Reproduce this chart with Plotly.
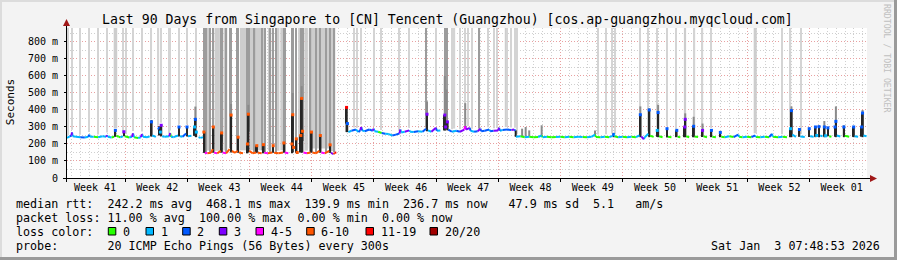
import numpy as np
import plotly.graph_objects as go

# ------------------------------------------------------------------ data
title = "Last 90 Days from Singapore to [CN] Tencent (Guangzhou) [cos.ap-guangzhou.myqcloud.com]"
week_labels = ["Week 41", "Week 42", "Week 43", "Week 44", "Week 45", "Week 46", "Week 47",
               "Week 48", "Week 49", "Week 50", "Week 51", "Week 52", "Week 01"]
week_label_day = [3.15, 10.15, 17.15, 24.15, 31.15, 38.15, 45.15, 52.15, 59.15, 66.15, 73.15, 80.15, 87.15]
week_start_day = [6.53, 13.53, 20.53, 27.53, 34.53, 41.53, 48.53, 55.53, 62.53, 69.53, 76.53, 83.53]
y_tick_vals = [0, 100, 200, 300, 400, 500, 600, 700, 800]
y_tick_text = ["0", "100 m", "200 m", "300 m", "400 m", "500 m", "600 m", "700 m", "800 m"]
y_max = 882

# median rtt (ms) at day offsets, with number of lost pings (of 20)
med_day = [
    # weeks 41-42
    0.0, 0.3, 0.5, 0.56, 0.65, 1.0, 1.5, 2.0, 2.4, 2.5, 2.6, 3.0, 3.5, 4.0, 4.4, 4.5, 4.6, 5.0, 5.3, 5.44,
    5.55, 5.8, 6.0, 6.3, 6.4, 6.5, 7.0, 7.3, 7.43, 7.55, 8.0, 8.3, 8.44, 8.55, 9.0, 9.3, 9.5, 9.6, 10.0, 10.25,
    10.35, 10.5, 10.6, 10.7, 11.0, 11.5, 11.6, 11.7, 12.0, 12.5, 12.6, 12.7, 13.0, 13.4, 13.5, 13.6, 14.0, 14.35, 14.44, 14.55,
    14.8, 15.0, 15.3, 15.4, 15.5,
    # weeks 43-44
    15.8, 16.2, 16.4, 16.46, 16.55, 16.9, 17.3, 17.4, 17.5, 17.9, 18.3, 18.46, 18.55, 18.9, 19.2, 19.25, 19.35, 19.8, 20.3, 20.4,
    20.5, 20.9, 21.3, 21.35, 21.45, 21.9, 22.1, 22.2, 22.6, 23.1, 23.2, 23.3, 23.8, 24.3, 24.4, 24.5, 24.9, 25.3, 25.4, 25.5,
    25.8, 25.9, 26.3, 26.4, 26.5, 26.6, 27.0, 27.4, 27.5, 27.6, 28.0, 28.4, 28.5, 28.6, 29.0, 29.5, 29.6, 29.7, 30.0, 30.1,
    30.3,
    # no data
    30.9,
    # weeks 45-47
    31.45, 31.55, 31.65, 32.0, 32.5, 32.8, 33.0, 33.1, 33.2, 33.5, 34.0, 34.4, 34.5, 34.6, 35.0, 35.4, 35.8, 36.2, 36.6, 37.0,
    37.4, 37.5, 37.6, 38.0, 38.5, 38.6, 39.0, 39.5, 40.0, 40.4, 40.5, 40.6, 41.0, 41.5, 41.6, 42.0, 42.5, 42.6, 42.8, 42.9,
    43.3, 43.8, 44.2, 44.7, 44.8, 44.9, 45.3, 45.4, 45.8, 46.2, 46.5, 46.6, 47.0, 47.5, 47.6, 48.0, 48.5, 48.6, 48.7, 49.0,
    49.5, 50.0, 50.3, 50.45, 50.5,
    # weeks 48-01
    51.0, 51.5, 52.0, 52.5, 53.0, 53.4, 53.5, 54.0, 54.5, 55.0, 55.5, 56.0, 56.5, 57.0, 57.5, 58.0, 58.5, 59.0, 59.4, 59.5,
    60.0, 60.5, 61.0, 61.4, 61.5, 61.6, 62.0, 62.5, 63.0, 63.5, 64.0, 64.4, 64.5, 64.6, 64.9, 65.0, 65.4, 65.5, 65.6, 66.0,
    66.4, 66.5, 66.6, 67.0, 67.5, 67.6, 68.0, 68.6, 68.7, 69.0, 69.5, 69.55, 69.65, 70.0, 70.5, 70.6, 71.0, 71.5, 71.6, 72.0,
    72.5, 72.6, 73.0, 73.5, 73.6, 74.0, 74.5, 75.0, 75.5, 75.6, 76.0, 76.5, 77.0, 77.4, 77.5, 78.0, 78.5, 79.0, 79.3, 79.4,
    80.0, 80.5, 81.0, 81.4, 81.5, 81.6, 82.0, 82.4, 82.5, 83.0, 83.5, 83.6, 84.0, 84.2, 84.35, 84.6, 84.75, 85.0, 85.2, 85.35,
    85.6, 85.75, 86.0, 86.4, 86.5, 86.6, 87.0, 87.4, 87.5, 88.0, 88.5, 88.6, 89.0, 89.4, 89.5, 89.6, 89.95,
]
med_ms = [
    235, 245, 250, 268, 245, 242, 240, 238, 242, 255, 242, 243, 240, 245, 243, 252, 242, 238, 242, 280,
    250, 242, 240, 245, 272, 245, 238, 242, 262, 240, 235, 240, 258, 242, 240, 245, 330, 250, 242, 285,
    300, 270, 310, 245, 242, 245, 265, 242, 240, 250, 300, 245, 242, 262, 300, 245, 248, 300, 345, 270,
    240, 236, 240, 270, 148,
    145, 148, 170, 300, 150, 145, 160, 265, 150, 145, 170, 370, 160, 148, 160, 240, 150, 145, 200, 375,
    160, 145, 150, 190, 148, 145, 196, 148, 145, 150, 190, 148, 145, 150, 206, 150, 145, 200, 372, 180,
    230, 150, 250, 468, 275, 150, 145, 150, 270, 150, 145, 160, 250, 150, 145, 160, 195, 148, 140, 148,
    150,
    None,
    415, 320, 270, 278, 285, 270, 282, 300, 280, 275, 285, 278, 290, 275, 272, 265, 260, 258, 250, 255,
    262, 285, 268, 272, 280, 272, 270, 275, 272, 290, 375, 280, 272, 295, 278, 280, 370, 300, 330, 285,
    272, 278, 272, 285, 305, 285, 295, 278, 272, 275, 290, 275, 278, 285, 275, 278, 280, 295, 278, 282,
    285, 282, 285, 278, 242,
    245, 240, 243, 240, 241, 250, 240, 242, 239, 241, 243, 240, 242, 240, 243, 241, 239, 242, 255, 241,
    240, 242, 240, 248, 265, 245, 240, 243, 240, 242, 240, 250, 372, 245, 228, 240, 260, 400, 248, 242,
    280, 385, 245, 240, 290, 243, 240, 280, 242, 240, 300, 345, 245, 240, 304, 244, 241, 280, 245, 240,
    280, 243, 240, 268, 242, 240, 245, 241, 255, 242, 240, 243, 240, 250, 241, 240, 243, 240, 260, 243,
    240, 242, 240, 290, 396, 255, 242, 285, 244, 241, 290, 245, 243, 300, 250, 302, 250, 245, 300, 248,
    295, 245, 242, 300, 333, 250, 244, 300, 248, 242, 300, 245, 243, 300, 382, 250, 245,
]
med_loss = [
    1, 1, 2, 3, 1, 1, 1, 2, 1, 2, 1, 1, 0, 1, 1, 3, 1, 1, 0, 2,
    1, 0, 0, 1, 3, 1, 0, 1, 3, 1, 0, 1, 3, 1, 1, 1, 2, 2, 1, 1,
    2, 1, 3, 1, 1, 1, 3, 0, 1, 1, 2, 1, 1, 2, 2, 1, 1, 1, 2, 1,
    1, 1, 1, 8, 8,
    5, 8, 8, 8, 8, 5, 8, 8, 8, 5, 8, 8, 8, 8, 8, 8, 8, 8, 8, 8,
    8, 8, 8, 8, 5, 8, 8, 8, 5, 8, 8, 8, 8, 8, 8, 8, 5, 8, 8, 8,
    8, 8, 8, 8, 8, 8, 5, 8, 8, 8, 8, 8, 8, 8, 5, 8, 8, 8, 3, 8,
    12,
    None,
    12, 2, 0, 1, 2, 1, 2, 3, 2, 1, 2, 2, 3, 1, 1, 0, 2, 1, 1, 2,
    2, 3, 1, 1, 3, 1, 1, 2, 1, 2, 3, 2, 1, 3, 2, 1, 3, 3, 3, 3,
    2, 1, 2, 3, 4, 3, 3, 2, 1, 2, 3, 2, 2, 2, 1, 2, 3, 3, 2, 1,
    2, 2, 3, 2, 1,
    1, 0, 1, 0, 0, 1, 0, 1, 0, 0, 1, 0, 1, 0, 1, 1, 0, 1, 1, 0,
    0, 1, 0, 1, 2, 1, 0, 1, 0, 1, 0, 1, 2, 1, 3, 1, 1, 2, 1, 0,
    1, 2, 1, 0, 2, 1, 0, 2, 1, 0, 3, 3, 1, 0, 2, 1, 0, 3, 1, 0,
    2, 1, 0, 2, 1, 0, 1, 0, 2, 1, 0, 1, 0, 2, 1, 0, 1, 0, 2, 1,
    0, 1, 0, 1, 2, 1, 1, 2, 1, 1, 2, 1, 1, 2, 1, 2, 1, 1, 2, 1,
    2, 1, 0, 2, 2, 1, 1, 2, 1, 0, 2, 1, 1, 2, 2, 1, 1,
]
assert len(med_day) == len(med_ms) == len(med_loss), (len(med_day), len(med_ms), len(med_loss))

# dense smoke (all pings high): day, low ms, high ms
dark_day = [9.5, 10.35, 10.6, 12.6, 13.5, 14.44, 15.45,
            16.46, 17.4, 18.46, 19.25, 20.4, 21.35, 22.1, 24.4, 25.4, 25.8, 26.4, 27.5, 28.5, 29.6,
            31.45, 40.5, 42.5, 42.8, 50.48,
            61.5, 64.5, 65.5, 66.5, 67.5, 69.55, 70.5, 81.5, 84.2, 84.6, 85.2, 86.5, 87.4, 88.5, 89.5]
dark_lo = [245, 250, 250, 245, 245, 245, 148,
           150, 150, 150, 150, 150, 150, 150, 150, 150, 150, 150, 150, 150, 150,
           270, 275, 280, 280, 242,
           240, 240, 240, 240, 240, 240, 240, 240, 240, 240, 240, 240, 240, 240, 240]
dark_hi = [340, 305, 310, 305, 300, 345, 270,
           300, 265, 370, 240, 375, 190, 196, 206, 372, 230, 468, 270, 250, 195,
           415, 375, 370, 330, 280,
           265, 372, 400, 385, 290, 345, 304, 396, 300, 302, 300, 333, 300, 300, 382]

# partial smoke (upper pings): day, low ms, high ms
mid_day = [14.44, 18.46, 20.4, 25.4, 26.4, 40.5, 42.5, 42.7, 44.8, 51.2, 51.6, 52.0, 53.4, 59.4,
           64.5, 65.5, 66.5, 69.55, 70.5, 71.5, 81.5, 85.2, 86.5, 87.4, 89.5]
mid_lo = [300, 300, 300, 300, 300, 290, 290, 290, 290, 245, 245, 245, 245, 245,
          250, 250, 250, 250, 250, 250, 250, 250, 250, 250, 250]
mid_hi = [420, 435, 430, 500, 540, 450, 600, 520, 440, 290, 300, 280, 310, 280,
          421, 411, 431, 380, 360, 320, 421, 335, 421, 310, 400]

# smoke reaching beyond the top of the graph (light, single samples)
top_light_day = [0.1, 0.56, 1.5, 2.5, 3.45, 4.5, 6.3, 6.6, 7.43, 8.44, 9.5, 10.3, 10.6, 11.45, 11.6, 12.6, 13.5, 14.5,
                 32.3, 32.6, 33.1, 34.5, 35.3, 37.4, 38.5, 41.5, 43.3, 43.6, 44.2, 44.8, 45.1, 45.6, 47.4, 48.0, 48.4,
                 49.5, 50.0, 50.4, 50.6,
                 59.7, 60.6, 61.3, 61.7, 64.5, 65.4, 66.4, 67.5, 68.5, 70.6, 71.5, 72.5, 80.4, 81.4, 82.55]
# smoke reaching beyond the top (wider periods): start day, end day
top_band_start = [5.25, 15.35, 16.6, 17.6, 19.45, 20.55, 22.6, 23.4, 24.0, 26.0, 26.7, 27.2, 29.7, 49.25, 69.4, 77.25]
top_band_end = [5.65, 16.0, 17.2, 17.85, 20.2, 22.4, 22.9, 23.9, 24.3, 26.25, 27.1, 29.5, 30.05, 49.55, 69.65, 77.6]
# heavier smoke beyond the top (single samples)
top_heavy_day = [15.45, 15.6, 16.05, 16.4, 17.3, 17.45, 17.95, 18.3, 18.45, 19.1, 19.25,
                 20.3, 20.45, 21.1, 21.95, 22.3, 22.9, 23.2, 23.55, 24.4, 24.55, 25.3, 25.45,
                 25.75, 26.35, 26.55, 27.4, 28.0, 28.45, 29.1, 29.6, 30.1,
                 40.4, 42.5, 42.75, 46.4]

loss_bucket_labels = ["0", "1", "2", "3", "4-5", "6-10", "11-19", "20/20"]
loss_bucket_max = [0, 1, 2, 3, 5, 10, 19, 20]

stats_line1 = "median rtt:  242.2 ms avg  468.1 ms max  139.9 ms min  236.7 ms now   47.9 ms sd  5.1   am/s"
stats_line2 = "packet loss: 11.00 % avg  100.00 % max  0.00 % min  0.00 % now"
probe_line = "probe:       20 ICMP Echo Pings (56 Bytes) every 300s"
loss_line = "loss color:"
stamp = "Sat Jan  3 07:48:53 2026"

# ------------------------------------------------------------------ style
W, H = 897, 260
ML, MR, MT, MB = 67, 30, 28, 82
PW, PH = W - ML - MR, H - MT - MB
FONT = "DejaVu Sans Mono"
LOSS_COLORS = ["#26ff00", "#00b8ff", "#0059ff", "#7e00ff", "#ff00ff", "#ff5500", "#ff0000", "#a10000"]
PX_DAY = 90.0 / PW
JUMP = 25  # ms; larger steps are not joined by the median line


def fx(px):
    return (px - ML) / PW


def fy(py):
    return (H - MB - py) / PH


def nb(s):
    return s.replace(" ", "\u00a0")


def bucket(n):
    for i, m in enumerate(loss_bucket_max):
        if n <= m:
            return i
    return len(loss_bucket_max) - 1


fig = go.Figure()

valid = [(d, v) for d, v in zip(med_day, med_ms) if v is not None]
vd = np.array([p[0] for p in valid])
vv = np.array([p[1] for p in valid])


def base_at(days):
    return np.interp(np.array(days, dtype=float), vd, vv)


def add_bars(x, lo, hi, width, color):
    lo = np.asarray(lo, dtype=float)
    hi = np.asarray(hi, dtype=float)
    fig.add_trace(go.Bar(x=x, y=hi - lo, base=lo, width=width,
                         marker=dict(color=color, line=dict(width=0)),
                         showlegend=False, hoverinfo="skip"))


# median line joins: which samples are linked to a neighbour
n = len(med_day)
joined = [False] * n
link = [False] * n
for i in range(1, n):
    a, c = med_ms[i - 1], med_ms[i]
    if a is None or c is None or abs(c - a) > JUMP:
        continue
    link[i] = True
    joined[i - 1] = joined[i] = True
iso = [i for i in range(n) if med_ms[i] is not None and not joined[i]]

thin = 1.2 * PX_DAY
# smoke beyond the top
band_c = [(s + e) / 2 for s, e in zip(top_band_start, top_band_end)]
band_w = [e - s for s, e in zip(top_band_start, top_band_end)]
add_bars(band_c, base_at(band_c) + 15, [y_max] * len(band_c), band_w, "#cdcdcd")
add_bars(top_light_day, base_at(top_light_day) + 15, [y_max] * len(top_light_day), thin, "#d4d4d4")
add_bars(top_heavy_day, base_at(top_heavy_day) + 5, [y_max] * len(top_heavy_day), thin, "#9c9c9c")
# partial smoke and dense smoke
add_bars(mid_day, mid_lo, mid_hi, 2.0 * PX_DAY, "#8a8a8a")
add_bars(dark_day, dark_lo, dark_hi, 2.0 * PX_DAY, "#1e1e1e")
# dense smoke under isolated median samples
iso_lo = []
for i in iso:
    nbrs = [med_ms[j] for j in (i - 1, i + 1) if 0 <= j < n and med_ms[j] is not None]
    iso_lo.append(min(nbrs + [med_ms[i]]))
add_bars([med_day[i] for i in iso], iso_lo, [med_ms[i] for i in iso], 1.6 * PX_DAY, "#262626")

# median line coloured by loss; isolated samples drawn as small squares
segs = {b: ([], []) for b in range(len(LOSS_COLORS))}
for i in range(1, n):
    if not link[i]:
        continue
    b = bucket(med_loss[i])
    segs[b][0].extend([med_day[i - 1], med_day[i], None])
    segs[b][1].extend([med_ms[i - 1], med_ms[i], None])
for b, (xs, ys) in segs.items():
    if xs:
        fig.add_trace(go.Scatter(x=xs, y=ys, mode="lines", line=dict(color=LOSS_COLORS[b], width=2),
                                 showlegend=False, hoverinfo="skip"))
fig.add_trace(go.Scatter(x=[med_day[i] for i in iso], y=[med_ms[i] for i in iso], mode="markers",
                         marker=dict(symbol="square", size=3, line=dict(width=0),
                                     color=[LOSS_COLORS[bucket(med_loss[i])] for i in iso]),
                         showlegend=False, hoverinfo="skip"))

# invisible trace carrying the week-label axis
fig.add_trace(go.Scatter(x=[0, 90], y=[0, 0], xaxis="x2", mode="lines",
                         line=dict(width=0), showlegend=False, hoverinfo="skip"))

DOT = "1px,2px"
fig.update_layout(
    width=W, height=H,
    margin=dict(l=ML, r=MR, t=MT, b=MB, pad=0),
    paper_bgcolor="#f3f3f3", plot_bgcolor="#ffffff",
    barmode="overlay", showlegend=False,
    font=dict(family=FONT, size=10, color="#000000"),
    xaxis=dict(range=[0, 90], tickmode="array", tickvals=week_start_day, ticktext=[""] * len(week_start_day),
               showgrid=True, gridcolor="#e8a0a0", gridwidth=1, griddash=DOT,
               ticks="outside", ticklen=3, tickcolor="#000000", zeroline=False, showline=False,
               minor=dict(tick0=week_start_day[0] % 1, dtick=1, showgrid=True, gridcolor="#cfcfcf",
                          griddash=DOT, ticks="")),
    xaxis2=dict(range=[0, 90], overlaying="x", side="bottom", anchor="y", tickmode="array",
                tickvals=week_label_day, ticktext=week_labels, showgrid=False, zeroline=False,
                ticks="", showline=False, ticklabelstandoff=2,
                tickfont=dict(family=FONT, size=10, color="#000000")),
    yaxis=dict(range=[0, y_max], tickmode="array", tickvals=y_tick_vals, ticktext=y_tick_text,
               showgrid=True, gridcolor="#e8a0a0", gridwidth=1, griddash=DOT,
               ticks="outside", ticklen=2, tickcolor="#000000", zeroline=False, showline=False,
               ticklabelstandoff=4,
               minor=dict(dtick=50, showgrid=True, gridcolor="#cfcfcf", griddash=DOT, ticks="")),
)

shapes = []
# frame shading
shapes.append(dict(type="rect", xref="paper", yref="paper", x0=fx(0), x1=fx(W), y0=fy(0), y1=fy(2),
                   fillcolor="#dcdcdc", line=dict(width=0), layer="below"))
shapes.append(dict(type="rect", xref="paper", yref="paper", x0=fx(0), x1=fx(2), y0=fy(0), y1=fy(H),
                   fillcolor="#dcdcdc", line=dict(width=0), layer="below"))
shapes.append(dict(type="rect", xref="paper", yref="paper", x0=fx(0), x1=fx(W), y0=fy(H - 3), y1=fy(H),
                   fillcolor="#9a9a9a", line=dict(width=0), layer="below"))
shapes.append(dict(type="rect", xref="paper", yref="paper", x0=fx(W - 3), x1=fx(W), y0=fy(0), y1=fy(H),
                   fillcolor="#9a9a9a", line=dict(width=0), layer="below"))
# axes with arrows
AX = H - MB + 0.5
shapes.append(dict(type="line", xref="paper", yref="paper", x0=fx(ML - 4), x1=fx(W - MR + 4), y0=fy(AX), y1=fy(AX),
                   line=dict(color="#000000", width=1)))
shapes.append(dict(type="line", xref="paper", yref="paper", x0=fx(ML - 0.5), x1=fx(ML - 0.5), y0=fy(H - MB + 4),
                   y1=fy(MT - 4), line=dict(color="#000000", width=1)))
ax_x = W - MR + 3
shapes.append(dict(type="path", xref="paper", yref="paper",
                   path="M %f %f L %f %f L %f %f Z" % (fx(ax_x), fy(AX - 3.5), fx(ax_x + 7), fy(AX), fx(ax_x), fy(AX + 3.5)),
                   fillcolor="#a01818", line=dict(width=0)))
ay_y = MT - 2
shapes.append(dict(type="path", xref="paper", yref="paper",
                   path="M %f %f L %f %f L %f %f Z" % (fx(ML - 4), fy(ay_y), fx(ML - 0.5), fy(ay_y - 7), fx(ML + 3), fy(ay_y)),
                   fillcolor="#a01818", line=dict(width=0)))

annotations = []


def text(s, x, y, size, anchor="left", color="#000000", angle=0):
    annotations.append(dict(text=nb(s), x=fx(x), y=fy(y), xref="paper", yref="paper", showarrow=False,
                            xanchor=anchor, yanchor="middle", textangle=angle, borderpad=0,
                            font=dict(family=FONT, size=size, color=color)))


text(title, 447, 19.3, 13.2, anchor="center")
text("Seconds", 10.7, 102.5, 11, anchor="center", angle=-90)
text("RRDTOOL / TOBI OETIKER", 887, 59, 8.2, anchor="center", color="#c0c0c0", angle=90)
text(stats_line1, 15, 204, 11.7)
text(stats_line2, 15, 218, 11.7)
text(loss_line, 15, 232, 11.7)
text(probe_line, 15, 246, 11.7)
text(stamp, 881, 246, 11.7, anchor="right")

box_x = [108.3, 146, 182.7, 219.3, 256, 306.7, 366, 430]
for bx, lab, col in zip(box_x, loss_bucket_labels, LOSS_COLORS):
    shapes.append(dict(type="rect", xref="paper", yref="paper", x0=fx(bx), x1=fx(bx + 7.5),
                       y0=fy(235), y1=fy(227.5), fillcolor=col, line=dict(color="#000000", width=1)))
    text(lab, bx + 13.5, 232, 11.7)

fig.update_layout(shapes=shapes, annotations=annotations)
fig.write_html("out.html")
